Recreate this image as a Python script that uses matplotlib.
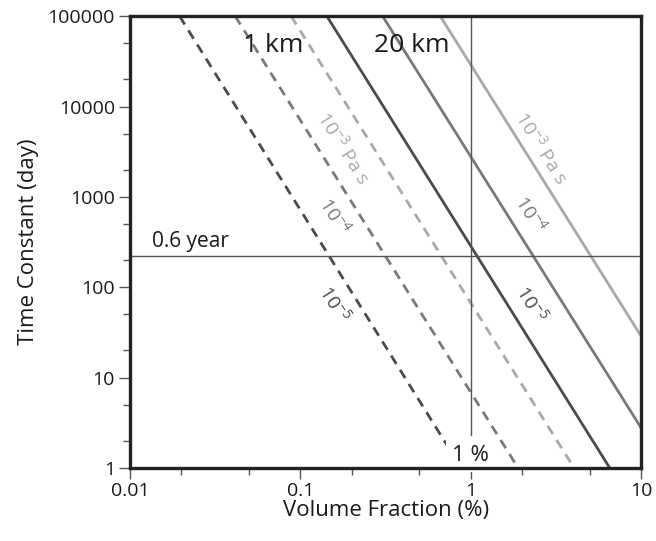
import matplotlib
matplotlib.use("Agg")
import matplotlib.pyplot as plt
from matplotlib.ticker import LogLocator, NullFormatter, FixedLocator

plt.rcParams["font.family"] = ["Open Sans", "DejaVu Sans"]
plt.rcParams["mathtext.fontset"] = "custom"
plt.rcParams["mathtext.rm"] = "Open Sans"
plt.rcParams["mathtext.default"] = "rm"

# viscosity of each line (Pa s) and the line shades
viscosity_labels = ["10$^{-5}$", "10$^{-4}$", "10$^{-3}$ Pa s"]
shades = ["#4a4a4a", "#787878", "#a8a8a8"]

# end points of each line: volume fraction (%) and time constant (day)
km1_phi = [(0.0195, 0.88), (0.0414, 1.90), (0.0882, 4.05)]
km1_t = [(1e5, 1), (1e5, 1), (1e5, 1)]
km20_phi = [(0.143, 6.56), (0.304, 10), (0.663, 10)]
km20_t = [(1e5, 1), (1e5, 2.8), (1e5, 29)]

# label anchors (volume fraction, day)
km1_label_pos = [(0.160, 66.9), (0.160, 629), (0.180, 3556)]
km20_label_pos = [(2.27, 66.9), (2.27, 646), (2.62, 3556)]

year_days = 0.6 * 365.25

fig = plt.figure(figsize=(6.56, 5.41), dpi=100)
ax = fig.add_axes([0.1985, 0.135, 0.7785, 0.835])
ax.set_xscale("log")
ax.set_yscale("log")
ax.set_xlim(0.01, 10)
ax.set_ylim(1, 1e5)

# 1 km: dashed
for (x0, x1), (y0, y1), c in zip(km1_phi, km1_t, shades):
    ax.plot([x0, x1], [y0, y1], color=c, lw=2.0, ls=(0, (3.5, 2.5)),
            solid_capstyle="butt", dash_capstyle="butt")
# 20 km: solid
for (x0, x1), (y0, y1), c in zip(km20_phi, km20_t, shades):
    ax.plot([x0, x1], [y0, y1], color=c, lw=2.0)

# reference lines
ax.axhline(year_days, color="#555555", lw=1.0)
ax.plot([1, 1], [2.3, 1e5], color="#555555", lw=1.0)

angle = -57.9
for (x, y), s, c in zip(km1_label_pos, viscosity_labels, shades):
    ax.text(x, y, s, color=c, fontsize=14, rotation=angle,
            ha="center", va="center", rotation_mode="anchor")
for (x, y), s, c in zip(km20_label_pos, viscosity_labels, shades):
    ax.text(x, y, s, color=c, fontsize=14, rotation=angle,
            ha="center", va="center", rotation_mode="anchor")

ax.text(0.0691, 47000, "1 km", fontsize=19, ha="center", va="center", color="#1a1a1a")
ax.text(0.448, 47000, "20 km", fontsize=19, ha="center", va="center", color="#1a1a1a")
ax.text(0.0135, 320, "0.6 year", fontsize=15, ha="left", va="center", color="#1a1a1a")
ax.text(1.0, 1.38, "1 %", fontsize=16, ha="center", va="center", color="#1a1a1a",
        zorder=5, bbox=dict(boxstyle="square,pad=0.3", fc="white", ec="none"))

# axes styling
for sp in ax.spines.values():
    sp.set_linewidth(2.4)
    sp.set_color("#222222")
    sp.set_zorder(6)

ax.xaxis.set_major_locator(FixedLocator([0.01, 0.1, 1, 10]))
ax.set_xticklabels(["0.01", "0.1", "1", "10"])
ax.yaxis.set_major_locator(FixedLocator([1, 10, 100, 1000, 10000, 100000]))
ax.set_yticklabels(["1", "10", "100", "1000", "10000", "100000"])
ax.xaxis.set_minor_locator(LogLocator(base=10, subs=(2, 5)))
ax.yaxis.set_minor_locator(LogLocator(base=10, subs=(2, 5)))
ax.xaxis.set_minor_formatter(NullFormatter())
ax.yaxis.set_minor_formatter(NullFormatter())
ax.tick_params(which="major", direction="out", length=8, width=1.0, color="#555555",
               labelsize=14, labelcolor="#1a1a1a", pad=3)
ax.tick_params(which="minor", direction="out", length=5, width=1.0, color="#555555")
ax.tick_params(axis="x", which="major", pad=2)

ax.set_xlabel("Volume Fraction (%)", fontsize=16, color="#1a1a1a", labelpad=0)
ax.set_ylabel("Time Constant (day)", fontsize=16, color="#1a1a1a", labelpad=6)

fig.savefig("out.png", dpi=100)
